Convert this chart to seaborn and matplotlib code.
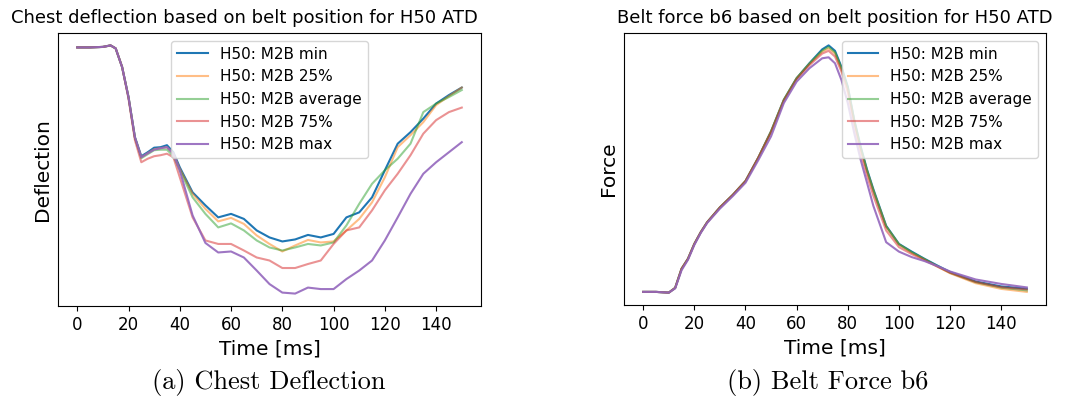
#!/usr/bin/env python3
"""
Chest deflection and belt force b6 for the H50 ATD, per belt position (M2B percentiles)
"""

import numpy as np
import pandas as pd
import matplotlib
matplotlib.use("Agg")
import matplotlib.pyplot as plt
import seaborn as sns

# Time axis of the deflection traces [ms]
time_defl = [0, 5, 10, 13, 15, 17.5, 20, 22.5, 25, 27.5, 30, 32.5, 35, 37.5,
             40, 45, 50, 55, 60, 65, 70, 75, 80, 85, 90, 95, 100, 105, 110,
             115, 120, 125, 130, 135, 140, 145, 150]

# Chest deflection [mm]
defl_min = [0.0, 0.0, 0.1, 0.4, -0.2, -3.9, -9.9, -17.9, -21.7, -20.9, -20.0, -19.9, -19.5, -20.9,
            -23.9, -28.9, -31.5, -33.9, -33.2, -34.2, -36.5, -37.9, -38.7, -38.3, -37.4, -37.9, -37.2,
            -33.9, -32.9, -29.9, -24.5, -19.2, -16.9, -14.2, -11.2, -9.5, -8.0]
defl_p25 = [0.0, 0.0, 0.1, 0.4, -0.2, -3.9, -9.9, -18.0, -21.9, -21.1, -20.3, -20.1, -19.9, -21.2,
            -24.2, -29.2, -32.2, -34.7, -34.0, -35.2, -37.5, -39.2, -40.7, -39.5, -38.4, -38.9, -38.7,
            -36.5, -34.2, -30.9, -25.9, -19.9, -17.5, -14.9, -11.5, -9.7, -8.0]
defl_avg = [0.0, 0.0, 0.1, 0.4, -0.2, -3.9, -9.9, -18.0, -22.1, -21.3, -20.5, -20.4, -20.4, -21.7,
            -24.5, -29.9, -33.2, -35.9, -35.1, -36.5, -38.5, -39.9, -40.5, -39.9, -39.2, -39.5, -38.9,
            -35.5, -31.2, -27.2, -24.5, -22.2, -19.2, -12.9, -11.2, -9.9, -8.5]
defl_p75 = [0.0, 0.0, 0.1, 0.4, -0.2, -3.9, -10.2, -18.5, -22.9, -22.2, -21.7, -21.5, -21.2, -21.9,
            -25.9, -33.9, -38.5, -39.2, -39.2, -40.5, -41.9, -42.5, -44.0, -44.0, -43.2, -42.5, -39.2,
            -36.5, -35.9, -32.5, -28.5, -25.2, -21.5, -17.2, -14.5, -12.9, -12.0]
defl_max = [0.0, 0.0, 0.1, 0.4, -0.2, -3.9, -9.9, -17.9, -21.9, -21.1, -20.4, -20.1, -19.9, -21.2,
            -24.5, -33.5, -39.0, -40.9, -40.7, -41.9, -44.5, -47.2, -48.9, -49.1, -47.9, -48.2, -48.2,
            -46.2, -44.5, -42.5, -38.5, -33.9, -29.2, -25.2, -22.9, -20.9, -18.9]

# Time axis of the belt force traces [ms]
time_force = [0, 5, 10, 12.5, 15, 17.5, 20, 22.5, 25, 30, 35, 40, 45, 50, 55, 60, 65, 70,
              72.5, 75, 77.5, 80, 82.5, 85, 87.5, 90, 95, 100, 105, 110, 115, 120, 130, 140, 150]

# Belt force b6 [kN]
force_min = [0.03, 0.03, 0.0, 0.19, 0.96, 1.36, 1.96, 2.43, 2.83, 3.43, 3.93, 4.49, 5.43, 6.49,
             7.76, 8.63, 9.23, 9.79, 9.95, 9.73, 9.09, 8.29, 6.96, 5.89, 4.96, 4.16, 2.69, 1.96,
             1.65, 1.36, 1.09, 0.83, 0.45, 0.25, 0.16]
force_p25 = [0.03, 0.03, 0.0, 0.19, 0.96, 1.36, 1.96, 2.43, 2.83, 3.43, 3.93, 4.49, 5.43, 6.49,
             7.76, 8.63, 9.20, 9.70, 9.83, 9.62, 9.00, 8.20, 6.90, 5.80, 4.90, 4.10, 2.65, 1.93,
             1.60, 1.33, 1.05, 0.78, 0.38, 0.15, 0.03]
force_avg = [0.03, 0.03, 0.0, 0.19, 0.96, 1.36, 1.96, 2.43, 2.83, 3.43, 3.93, 4.49, 5.43, 6.49,
             7.76, 8.63, 9.22, 9.74, 9.89, 9.67, 9.05, 8.25, 6.93, 5.85, 4.93, 4.12, 2.67, 1.95,
             1.63, 1.35, 1.07, 0.80, 0.42, 0.20, 0.09]
force_p75 = [0.03, 0.03, 0.0, 0.19, 0.96, 1.36, 1.96, 2.43, 2.83, 3.43, 3.93, 4.49, 5.43, 6.45,
             7.72, 8.58, 9.15, 9.62, 9.73, 9.50, 8.90, 8.05, 6.70, 5.60, 4.70, 3.90, 2.50, 1.83,
             1.55, 1.30, 1.05, 0.80, 0.43, 0.22, 0.13]
force_max = [0.03, 0.03, 0.0, 0.17, 0.90, 1.32, 1.92, 2.40, 2.80, 3.38, 3.88, 4.42, 5.33, 6.29,
             7.63, 8.49, 9.03, 9.43, 9.47, 9.23, 8.56, 7.63, 6.43, 5.36, 4.43, 3.49, 2.03, 1.65,
             1.43, 1.27, 1.07, 0.85, 0.53, 0.35, 0.21]

labels = ["H50: M2B min", "H50: M2B 25%", "H50: M2B average", "H50: M2B 75%", "H50: M2B max"]
colors = sns.color_palette("tab10", 5)
alphas = [1.0, 0.5, 0.5, 0.5, 0.9]


def draw_panel(ax, time, series, ylabel, legend_loc):
    for vals, lab, col, a in zip(series, labels, colors, alphas):
        df = pd.DataFrame({"time": time, "value": vals})
        sns.lineplot(data=df, x="time", y="value", ax=ax, color=col, alpha=a,
                     label=lab, linewidth=1.5)
    ax.set_xticks(np.arange(0, 141, 20))
    ax.set_yticks([])
    ax.set_xlabel("Time [ms]", fontsize=14.5)
    ax.set_ylabel(ylabel, fontsize=14.5)
    ax.tick_params(axis="x", labelsize=12)
    ax.legend(loc=legend_loc, fontsize=11, labelspacing=0.5)


fig = plt.figure(figsize=(10.85, 4.01), dpi=100)
ax1 = fig.add_axes([58 / 1085, 1 - 306 / 401, 423 / 1085, 273 / 401])
ax2 = fig.add_axes([624 / 1085, 1 - 305 / 401, 422 / 1085, 272 / 401])

draw_panel(ax1, time_defl, [defl_min, defl_p25, defl_avg, defl_p75, defl_max],
           "Deflection", "upper center")
draw_panel(ax2, time_force, [force_min, force_p25, force_avg, force_p75, force_max],
           "Force", "upper right")

# panel titles (placed by hand like in the report)
fig.text(244 / 1085, 1 - 23 / 401, "Chest deflection based on belt position for H50 ATD",
         ha="center", va="baseline", fontsize=13)
fig.text(835 / 1085, 1 - 23 / 401, "Belt force b6 based on belt position for H50 ATD",
         ha="center", va="baseline", fontsize=13)

# subfigure captions
fig.text(269 / 1085, 1 - 383 / 401, "(a) Chest Deflection", ha="center", va="center",
         fontsize=19, family="cmr10")
fig.text(828 / 1085, 1 - 383 / 401, "(b) Belt Force b6", ha="center", va="center",
         fontsize=19, family="cmr10")

fig.savefig("out.png", dpi=100)
plt.close(fig)
